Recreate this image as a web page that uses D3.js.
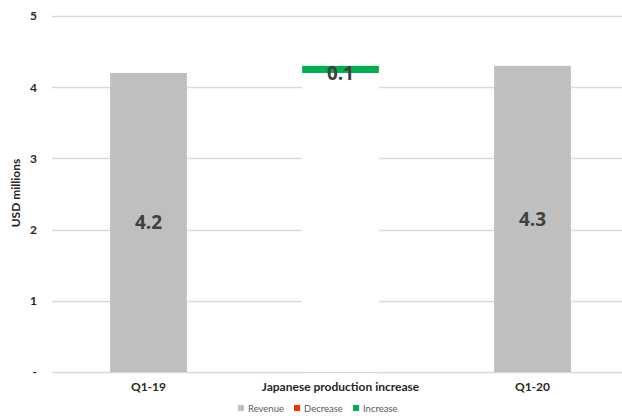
<!DOCTYPE html>
<html>
<head>
<meta charset="utf-8">
<script src="https://cdn.jsdelivr.net/npm/d3@7"></script>
<style>
body{margin:0;background:#fff;}
text{font-family:Lato,"Liberation Sans",sans-serif;}
</style>
</head>
<body>
<div id="chart"></div>
<script>
// waterfall data
let categories = ["Q1-19", "Japanese production increase", "Q1-20"];
let base = [0, 4.2, 0];
let revenue = [4.2, 0, 4.3];
let decrease = [0, 0, 0];
let increase = [0, 0.1, 0];
let yTicks = [0, 1, 2, 3, 4, 5];
let legendNames = ["Revenue", "Decrease", "Increase"];

let width = 622, height = 416;
let svg = d3.select("#chart").append("svg").attr("width", width).attr("height", height);

let x = d3.scaleBand().domain(categories).range([52.5, 628.5]).paddingInner(0.6).paddingOuter(0.3);
let y = d3.scaleLinear().domain([0, 5]).range([372, 16]);

let colors = {Base: "#ffffff", Revenue: "#bfbfbf", Decrease: "#ff2d00", Increase: "#00b050"};
let font = "Lato,'Liberation Sans',sans-serif";

// gridlines
svg.append("g").selectAll("line").data(yTicks).enter().append("line")
  .attr("x1", 52).attr("x2", 622)
  .attr("y1", d => Math.round(y(d)) + 0.5).attr("y2", d => Math.round(y(d)) + 0.5)
  .style("stroke", "#d9d9d9").style("stroke-width", 1.3);

// y axis labels
let yAxis = d3.axisLeft(y).tickValues(yTicks).tickSize(0).tickPadding(0)
  .tickFormat(d => d === 0 ? "-" : d3.format("d")(d));
svg.append("g").attr("transform", "translate(37,0)").call(yAxis)
  .call(g => g.select(".domain").remove())
  .selectAll("text").style("font-size", "12px").style("font-weight", "bold").style("fill", "#262626")
  .style("font-family", font);

svg.append("text").text("USD millions")
  .attr("transform", "translate(20,193) rotate(-90)")
  .attr("text-anchor", "middle").style("font-size", "12px").style("font-weight", "bold").style("fill", "#262626");

// stacked bars
let rows = categories.map((c, i) => ({cat: c, Base: base[i], Revenue: revenue[i], Decrease: decrease[i], Increase: increase[i]}));
let stack = d3.stack().keys(["Base", "Revenue", "Decrease", "Increase"])(rows);

svg.append("g").selectAll("g").data(stack).enter().append("g")
  .style("fill", d => colors[d.key])
  .selectAll("rect").data(d => d).enter().append("rect")
  .attr("x", d => x(d.data.cat))
  .attr("width", x.bandwidth())
  .attr("y", d => y(d[1]))
  .attr("height", d => y(d[0]) - y(d[1]));

// value labels
let labels = [];
stack.forEach(s => {
  if (s.key === "Base") return;
  s.forEach(d => { if (d[1] - d[0] > 0) labels.push({cat: d.data.cat, v: d[1] - d[0], mid: (d[0] + d[1]) / 2}); });
});
svg.append("g").selectAll("text").data(labels).enter().append("text")
  .attr("x", d => x(d.cat) + x.bandwidth() / 2)
  .attr("y", d => y(d.mid) + (d.v < 0.3 ? 4 : 0))
  .attr("dy", "0.35em")
  .attr("text-anchor", "middle")
  .style("font-family", "'Open Sans',sans-serif")
  .style("font-size", "19px").style("font-weight", "bold").style("fill", "#404040")
  .text(d => d3.format(".1f")(d.v));

// category axis
let xAxis = d3.axisBottom(x).tickSize(0).tickPadding(0);
svg.append("g").attr("transform", "translate(0,382)").call(xAxis)
  .call(g => g.select(".domain").remove())
  .selectAll("text").style("font-size", "12px").style("font-weight", "bold").style("fill", "#262626")
  .style("font-family", font);

// legend
let legendX = [238, 294, 353];
let legend = svg.append("g").attr("id", "legend");
legendNames.forEach((n, i) => {
  legend.append("rect").attr("x", legendX[i]).attr("y", 405).attr("width", 6).attr("height", 6).style("fill", colors[n]);
  legend.append("text").text(n).attr("x", legendX[i] + 10).attr("y", 411.5)
    .style("font-size", "9.5px").style("fill", "#595959");
});
</script>
</body>
</html>
